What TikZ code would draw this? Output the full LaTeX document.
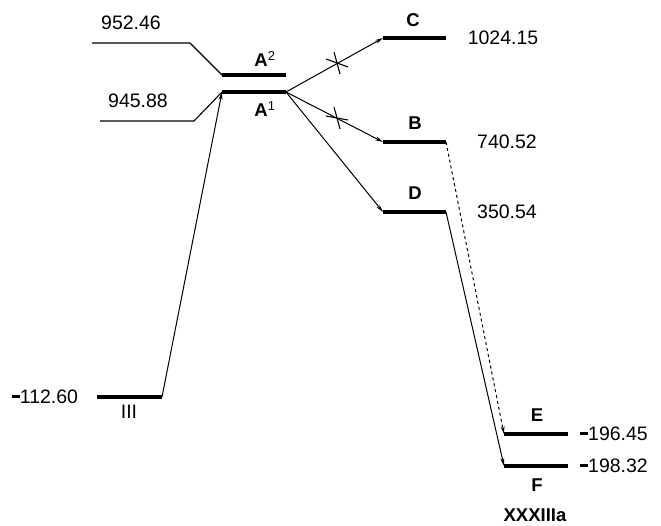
\documentclass[tikz,border=0pt]{standalone}
\usepackage{fontspec}
\setmainfont{Liberation Sans}
\usetikzlibrary{arrows.meta}
\newcommand{\mydash}{\rule[5.5pt]{8pt}{3pt}}
\begin{document}
\begin{tikzpicture}[x=1pt,y=-1pt,
  level/.style={line width=3.6pt},
  thin/.style={line width=1.1pt},
  conn/.style={line width=1pt,-{Stealth[length=8pt,width=4pt]}},
  num/.style={font=\fontsize{19.5}{22}\selectfont,inner sep=0pt},
  lab/.style={font=\fontsize{18.5}{20}\selectfont\bfseries,inner sep=0pt}]
\useasboundingbox (0,0) rectangle (661,525);
% level end points
\coordinate (IIIl) at (97,397);  \coordinate (IIIr) at (162,397);
\coordinate (A2l) at (222,75);   \coordinate (A2r) at (286,75);
\coordinate (A1l) at (222,92);   \coordinate (A1r) at (286,92);
\coordinate (Cl) at (383,38);    \coordinate (Cr) at (446,38);
\coordinate (Bl) at (383,142);   \coordinate (Br) at (446,142);
\coordinate (Dl) at (383,212);   \coordinate (Dr) at (446,212);
\coordinate (El) at (504,434);   \coordinate (Er) at (568,434);
\coordinate (Fl) at (504,466);   \coordinate (Fr) at (568,466);
\coordinate (a2s) at (92,43);    \coordinate (a2k) at (190,43);
\coordinate (a1s) at (100,121);  \coordinate (a1k) at (194,121);
% levels
\draw[level] (IIIl) -- (IIIr);
\draw[level] (A2l) -- (A2r);
\draw[level] (A1l) -- (A1r);
\draw[level] (Cl) -- (Cr);
\draw[level] (Bl) -- (Br);
\draw[level] (Dl) -- (Dr);
\draw[level] (El) -- (Er);
\draw[level] (Fl) -- (Fr);
% correlation lines
\draw[thin] (a2s) -- (a2k) -- (A2l);
\draw[thin] (a1s) -- (a1k) -- (A1l);
% arrows
\draw[conn] (IIIr) -- (A1l);
\draw[conn] (A1r) -- (Cl);
\draw[conn] (A1r) -- (Bl);
\draw[conn] (A1r) -- (Dl);
\draw[conn,dashed] (Br) -- (El);
\draw[conn] (Dr) -- (Fl);
% forbidden crosses
\coordinate (x1) at (337,63);
\coordinate (x2) at (337,118);
\draw[thin] ([shift={(-11,-4)}]x1) -- ([shift={(11,4)}]x1);
\draw[thin] ([shift={(-3,-11)}]x1) -- ([shift={(3,11)}]x1);
\draw[thin] ([shift={(-11,-2)}]x2) -- ([shift={(11,2)}]x2);
\draw[thin] ([shift={(-3,-11)}]x2) -- ([shift={(3,11)}]x2);
% labels
\node[num] (n952) at (131,23) {952.46};
\node[num] (n945) at (138,101) {945.88};
\node[num] (n112) at (45,397) {\mydash 112.60};
\node[num] (nIII) at (129,412) {III};
\node[lab] (lA2) at (265,59) {A\textsuperscript{\mdseries 2}};
\node[lab] (lA1) at (265,109) {A\textsuperscript{\mdseries 1}};
\node[lab] (lC) at (413,20) {C};
\node[num] (n1024) at (503,38) {1024.15};
\node[lab] (lB) at (415,123) {B};
\node[num] (n740) at (507,142) {740.52};
\node[lab] (lD) at (415,193) {D};
\node[num] (n350) at (507,212) {350.54};
\node[lab] (lE) at (537,415) {E};
\node[num] (n196) at (614,434) {\mydash 196.45};
\node[lab] (lF) at (537,485) {F};
\node[num] (n198) at (614,466) {\mydash 198.32};
\node[lab] (lX) at (535,515) {XXXIIIa};
\end{tikzpicture}
\end{document}
